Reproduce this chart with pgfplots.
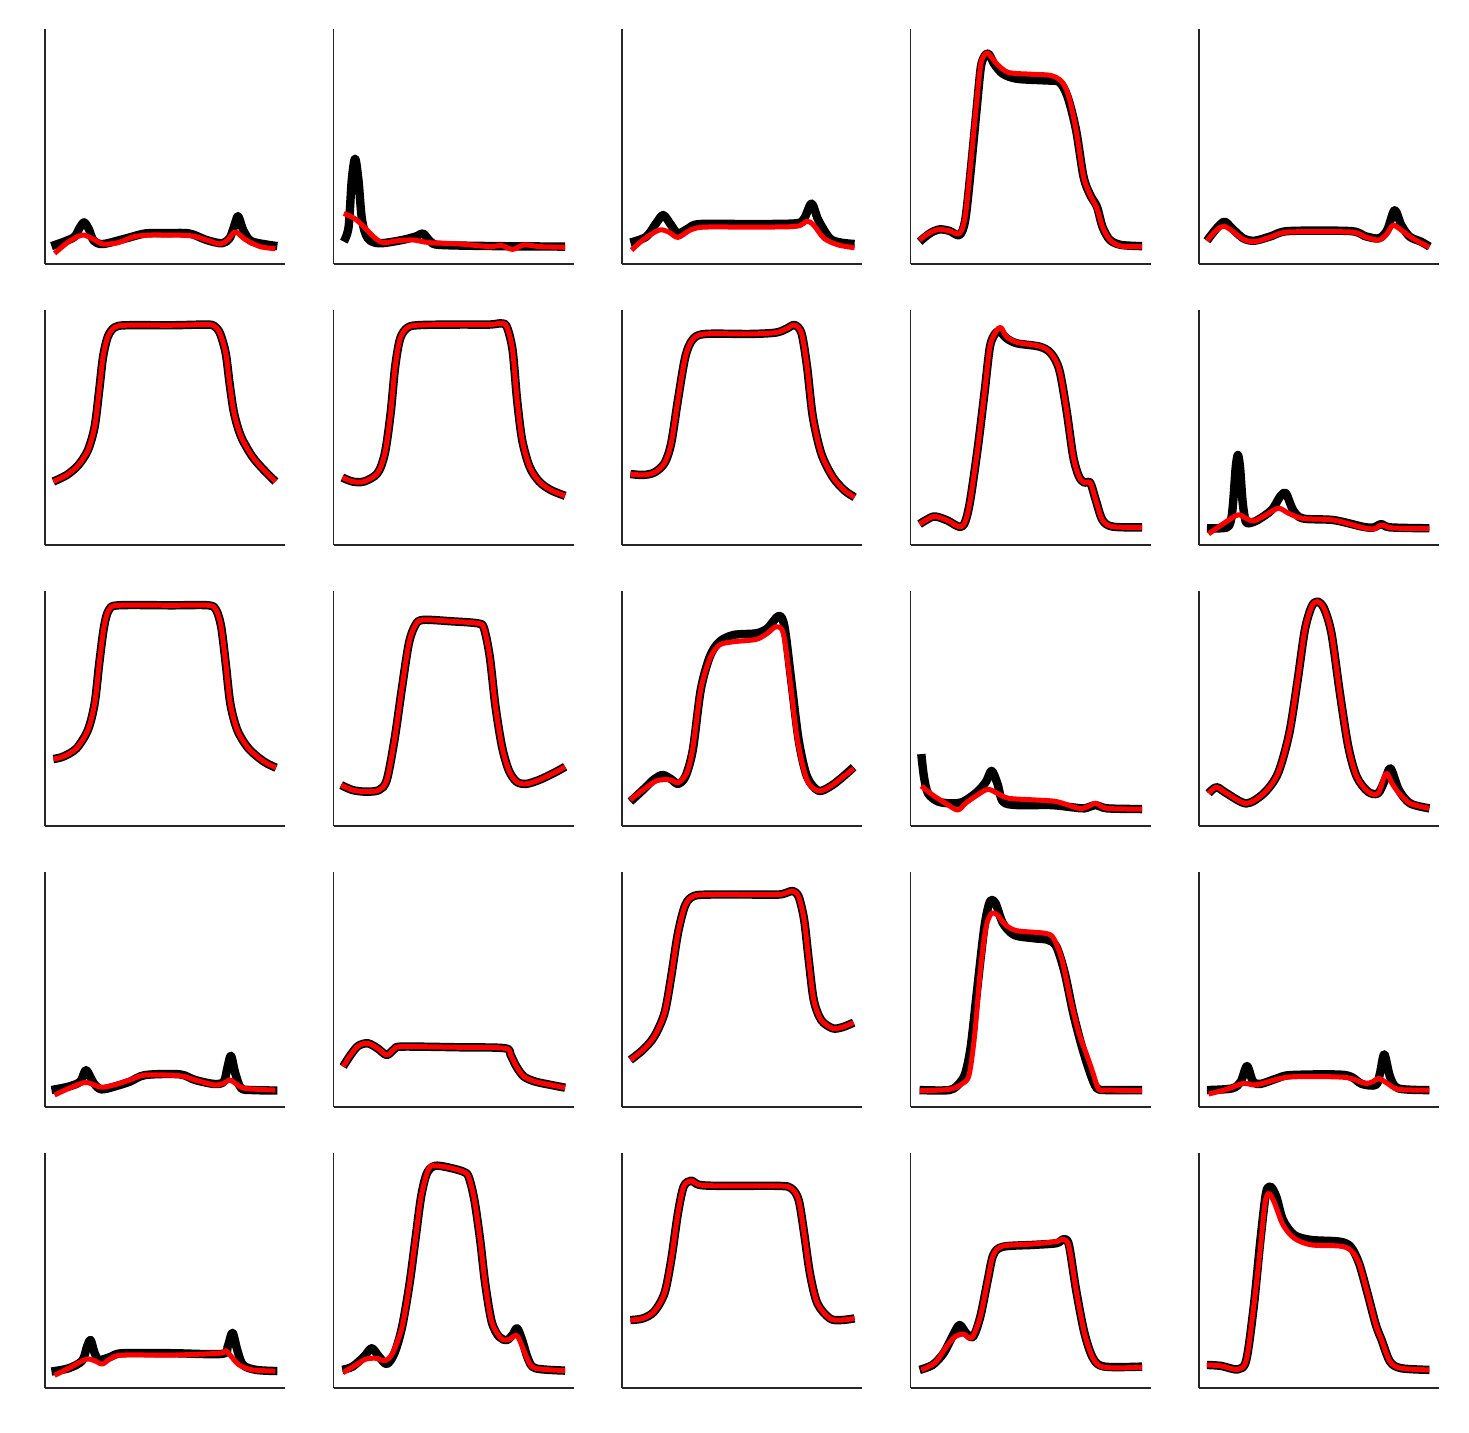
\documentclass[border=0pt]{standalone}
\usepackage{pgfplots}
\usepackage{pgfplotstable}
\pgfplotsset{compat=1.18}
\pgfplotsset{
 panel/.style={scale only axis, width=120pt, height=117.5pt, xmin=0, xmax=100, ymin=0, ymax=100,
   axis x line=bottom, axis y line=left, axis line style={-, line width=0.75pt, draw=black!85},
   xtick=\empty, ytick=\empty, clip=false, anchor=south west},
 blk/.style={black, line width=4.2pt, smooth, tension=0.5, line join=round, line cap=butt, mark=none},
 rd/.style={red, line width=2.5pt, smooth, tension=0.5, line join=round, line cap=butt, mark=none},
}
\pgfplotstableread{
x y
3.5 27.0
9.1 29.8
13.9 34.0
17.9 40.4
20.7 50.4
22.6 66.0
24.2 80.1
26.2 88.7
29.0 92.6
33.8 93.5
52.9 93.5
67.3 93.8
70.5 93.2
72.9 90.1
75.3 81.6
76.9 68.8
78.8 56.0
81.7 46.1
86.4 37.6
91.2 31.9
96.0 27.0
}\tabSix
\pgfplotstableread{
x y
3.7 28.7
7.9 27.0
12.7 27.0
18.3 30.5
21.4 39.0
23.8 56.0
25.7 75.9
27.8 87.9
31.0 92.6
36.5 93.6
52.4 93.8
65.1 93.8
69.8 94.3
72.2 92.9
74.6 83.0
76.5 61.7
78.6 44.7
81.7 33.3
85.7 27.0
90.5 23.4
96.5 20.9
}\tabSeven
\pgfplotstableread{
x y
3.5 30.2
8.7 29.8
13.4 30.8
17.7 34.8
20.5 43.3
23.3 61.7
26.4 80.1
29.5 87.5
34.7 89.8
53.5 89.8
64.2 90.4
68.9 92.2
71.9 93.6
74.8 90.1
77.1 75.9
79.5 54.6
83.0 39.0
87.7 29.1
92.5 23.4
96.9 20.3
}\tabEight
\pgfplotstableread{
x y
3.5 28.5
7.5 29.5
13.1 33.0
17.9 40.9
20.7 52.2
22.6 69.2
24.6 84.8
26.6 91.9
30.6 93.9
52.9 93.9
68.1 93.9
71.3 91.9
73.4 84.8
75.3 69.2
77.2 52.2
80.1 40.9
84.8 33.0
91.2 27.4
96.3 24.8
}\tabEleven
\pgfplotstableread{
x y
3.2 17.4
7.9 15.3
13.5 14.6
19.0 15.3
22.2 19.6
25.4 36.6
28.6 59.3
31.4 77.7
34.1 85.5
37.3 87.7
49.2 87.1
60.3 86.2
62.7 84.1
65.1 72.1
67.5 50.8
70.2 33.8
73.0 23.8
76.2 18.9
80.2 17.9
85.7 19.6
92.1 22.7
96.5 25.2
}\tabTwelve
\pgfplotstableread{
x y
4.0 17.2
7.1 22.1
10.3 26.0
14.3 27.1
18.3 25.0
22.2 22.1
25.4 24.7
28.6 25.7
52.4 25.4
71.4 25.0
73.8 22.1
76.2 17.2
79.4 12.9
84.1 10.8
90.5 9.4
96.5 8.2
}\tabSeventeen
\pgfplotstableread{
x y
3.5 20.0
8.7 24.3
13.4 29.9
17.7 39.9
20.5 55.5
23.3 73.9
26.4 86.0
30.0 89.8
37.0 90.4
53.5 90.4
65.3 90.4
68.9 91.3
71.2 91.9
73.6 89.5
75.9 79.6
77.8 62.6
79.9 45.5
83.0 37.0
87.7 33.5
91.7 33.9
96.5 35.9
}\tabEighteen
\pgfplotstableread{
x y
3.5 28.9
8.7 29.6
13.4 32.5
17.7 40.3
20.5 54.5
23.3 74.3
25.7 85.7
28.8 88.2
32.3 86.4
41.7 86.0
65.3 86.0
70.5 85.0
73.6 80.0
75.9 65.8
78.3 48.8
81.4 36.0
86.6 29.6
91.3 28.9
96.9 29.6
}\tabTwentyThree
\begin{document}
\begin{tikzpicture}
\path[use as bounding box] (0,0) rectangle (734.5pt,716.5pt);
% ---------------- row 1
\begin{axis}[panel, at={(22.5pt,584.5pt)}]
\addplot[blk] coordinates {(2.7,7.6)(8,9.5)(12.3,11.6)(14.5,15.5)(16.3,17.7)(18.2,15)(20.3,9.9)(24.2,8.5)(33.8,10.9)(41.8,13)(50,13.1)(60,13)(67.3,10.2)(73.7,8.8)(76.9,10.9)(78.8,16)(80.4,20.4)(82,16)(83.3,13)(86.4,9.5)(96.8,7.6)};
\addplot[rd] coordinates {(4,4.5)(9.9,9.5)(15.5,12.3)(19.5,10.9)(24.2,8.5)(30.6,9.1)(37,11.6)(43.4,12.3)(50,12.3)(60.9,12)(67.3,10.2)(72.9,8.5)(76.1,10.2)(79.3,13.7)(83.3,10.5)(89.6,7.4)(96,6.5)};
\end{axis}
\begin{axis}[panel, at={(166.75pt,584.5pt)}]
\addplot[blk] coordinates {(4.3,9.5)(6.3,15.8)(7.6,35.6)(9,44.8)(10.4,35.6)(11.9,18.7)(14.3,10.9)(19,8.8)(28.6,10.2)(34.9,11.9)(37.3,13)(40.5,9.5)(44.4,8.1)(68.3,7.6)(96.5,7.4)};
\addplot[rd] coordinates {(4.3,21.5)(8.7,19.4)(12.7,15.8)(16.7,11.6)(20.6,9.1)(27,9.9)(33.3,10.2)(39.7,9.1)(52.4,8.5)(65.1,7.4)(69.8,7.9)(74.6,6.2)(79.4,8.1)(85.7,7.4)(96.5,7.1)};
\end{axis}
\begin{axis}[panel, at={(311pt,584.5pt)}]
\addplot[blk] coordinates {(3.5,9.1)(10.1,11.6)(14.2,17.3)(17.2,20.8)(20.5,16.5)(23.3,13)(27.6,15.1)(32.3,17)(53.5,17)(72.4,17.3)(75.9,19.4)(79,25.7)(81.8,18.7)(86.6,10.9)(91.3,9.1)(96.9,8.5)};
\addplot[rd] coordinates {(4,5.9)(8.7,10.2)(15.3,14.4)(19.3,13.7)(23.3,11.3)(28.8,14.6)(34.7,15.7)(53.5,15.7)(72.4,16)(77.1,18.2)(79.9,16.5)(84.2,10.9)(90.1,8.1)(96.9,6.9)};
\end{axis}
\begin{axis}[panel, at={(455.25pt,584.5pt)}]
\addplot[blk] coordinates {(3.8,9.5)(8,13)(12,14.7)(16.2,14.1)(20.4,12.3)(22.8,18.7)(25.1,39.9)(27.5,65.3)(29.3,83.7)(31,88.7)(32.6,89.4)(35,84.9)(38.5,80.9)(44.4,78.8)(56.1,78.1)(62,77.4)(65.5,71)(69,56.9)(72.1,37.1)(74.9,29.3)(77.7,24.3)(80,15.8)(83.1,10.2)(87.8,8.1)(96.5,7.6)};
\addplot[rd] coordinates {(3.8,10.2)(8,13.3)(12,14.7)(16.2,14.1)(20.4,13)(22.8,20.2)(25.1,42.7)(27.5,68.2)(29.3,85.1)(31.2,89.4)(32.6,89.4)(36.2,84.9)(40.8,81.5)(49.1,80.8)(58.5,80.2)(63.2,77.4)(66,71)(69,56.9)(72.1,37.1)(74.9,29.3)(77.7,23.6)(80,15.8)(83.1,10.2)(87.8,7.6)(96.5,7.4)};
\end{axis}
\begin{axis}[panel, at={(599.5pt,584.5pt)}]
\addplot[blk] coordinates {(3.3,9.9)(7.3,15.1)(10.6,18)(13.8,15.1)(18.5,10.9)(23.2,9.9)(30.3,11.9)(37.3,14)(63.1,14)(69,11.9)(74.9,10.9)(78.4,14.4)(81.5,22.9)(84.3,16.5)(87.8,11.6)(92.5,9.5)(96,7.4)};
\addplot[rd] coordinates {(3.3,9.9)(7.3,14.4)(10.3,16.1)(13.8,14.1)(18.5,10.5)(23.2,9.5)(30.3,11.6)(37.3,13.6)(63.1,13.6)(69,11.6)(74.9,10.2)(78.4,13)(80.8,16.5)(84.3,14.4)(89,10.9)(96,7.1)};
\end{axis}
% ---------------- row 2
\begin{axis}[panel, at={(22.5pt,444pt)}]
\addplot[blk] table {\tabSix};
\addplot[rd] table {\tabSix};
\end{axis}
\begin{axis}[panel, at={(166.75pt,444pt)}]
\addplot[blk] table {\tabSeven};
\addplot[rd] table {\tabSeven};
\end{axis}
\begin{axis}[panel, at={(311pt,444pt)}]
\addplot[blk] table {\tabEight};
\addplot[rd] table {\tabEight};
\end{axis}
\begin{axis}[panel, at={(455.25pt,444pt)}]
\addplot[blk] coordinates {(3.8,8.9)(9.6,12.1)(15,10.6)(21.4,7.8)(24.4,16.3)(27.9,40.4)(30.8,64.5)(33.1,84.4)(35.4,90.1)(37.3,90.8)(40.1,87.9)(44.4,85.8)(53.8,84.4)(58.5,81.6)(62,74.5)(65,57.4)(67.8,37.6)(70.2,29.1)(72.5,26.5)(74.9,26.5)(77.2,19.1)(80,10.6)(84.3,7.8)(96.5,7.5)};
\addplot[rd] coordinates {(3.8,8.9)(9.6,12.1)(15,10.6)(21.4,7.8)(24.4,16.3)(27.9,40.4)(30.8,64.5)(33.1,84.4)(35.6,90.8)(37.6,92.6)(40.1,88.6)(44.4,86.2)(53.8,84.6)(58.5,81.6)(62,74.5)(65,57.4)(67.8,37.6)(70.2,29.1)(72.5,26.5)(74.9,26.5)(77.2,19.1)(80,10.6)(84.3,7.8)(96.5,7.5)};
\end{axis}
\begin{axis}[panel, at={(599.5pt,444pt)}]
\addplot[blk] coordinates {(3.3,7.1)(11.5,7.4)(13.4,11)(14.3,19.1)(15.3,33)(16.2,38.3)(17.1,33)(18.1,19.1)(19.2,11)(20.4,9.2)(24.4,10.6)(30.3,14.9)(33.8,20.6)(36.2,22)(39.2,14.9)(43.2,11.3)(56.1,10.6)(68.1,7.8)(72.5,7.4)(76.1,8.9)(79.6,7.5)(96,7.1)};
\addplot[rd] coordinates {(4,4.7)(10.3,9.2)(16.2,12.8)(19.7,11.3)(22.8,10.2)(27.9,12.8)(33.1,15.6)(37.3,13.5)(43.2,11.3)(56.1,10.6)(68.1,7.4)(72.8,6.8)(76.1,8.5)(80.8,7.2)(96,7.1)};
\end{axis}
% ---------------- row 3
\begin{axis}[panel, at={(22.5pt,303.5pt)}]
\addplot[blk] table {\tabEleven};
\addplot[rd] table {\tabEleven};
\end{axis}
\begin{axis}[panel, at={(166.75pt,303.5pt)}]
\addplot[blk] table {\tabTwelve};
\addplot[rd] table {\tabTwelve};
\end{axis}
\begin{axis}[panel, at={(311pt,303.5pt)}]
\addplot[blk] coordinates {(3.5,10.4)(8.7,15.3)(13.4,19.9)(17,21.7)(20.5,19.9)(23.3,17.9)(26.4,21)(29.5,32.3)(32.8,57.9)(36.6,72.1)(40.6,78.4)(46.5,81.3)(55.9,82)(60.6,84.1)(65.3,89.4)(67.7,84.8)(70.5,62.1)(73.6,36.6)(77.1,21)(81.8,15)(86.6,16.7)(91.3,20.3)(96.5,25)};
\addplot[rd] coordinates {(3.5,11.1)(8.7,15.3)(14.6,19.3)(20.5,19.6)(23.3,18.4)(26.9,22.4)(29.5,33)(32.8,57.9)(36.6,71.3)(40.6,77)(46.5,78.4)(55.9,79.4)(60.6,82)(64.2,84.8)(67.2,82)(70,62.1)(73.1,36.6)(77.1,19.6)(81.8,14.9)(86.6,16.7)(91.3,20.3)(96.5,24.5)};
\end{axis}
\begin{axis}[panel, at={(455.25pt,303.5pt)}]
\addplot[blk] coordinates {(4.5,30.6)(5.6,21)(7.3,13.9)(11.5,10.4)(17.4,9.6)(22.1,10.4)(27.9,14.6)(31.5,18.9)(33.8,23.5)(36.2,18.1)(38.5,10.4)(44.4,8.9)(58.5,8.9)(67.8,7.9)(72.5,7.5)(77.2,8.9)(81.9,7.5)(96.5,7.2)};
\addplot[rd] coordinates {(4.5,17)(9.2,13.2)(15,9.4)(19.7,6.8)(23.2,9.9)(27.9,13.2)(32.2,15.6)(36.2,13.9)(40.8,11.8)(51.4,11.1)(60.8,10.4)(70.2,7.5)(73.7,8.2)(77.2,9.6)(81.9,7.5)(96.5,7.2)};
\end{axis}
\begin{axis}[panel, at={(599.5pt,303.5pt)}]
\addplot[blk] coordinates {(4,13.9)(7.3,16.5)(11.5,13.9)(19.7,9.6)(27,13.9)(32.9,22.4)(37.6,39.4)(41.1,62.1)(44.1,83.4)(46.9,93.3)(49.3,95.5)(52.1,92.6)(55.2,81.9)(58.7,56.5)(62.2,33.8)(65.7,21)(70.4,14.6)(74.6,13.9)(77.5,19.6)(79.8,24.5)(83.3,15.3)(88,9.6)(96,7.5)};
\addplot[rd] coordinates {(4,13.9)(7.3,16.5)(11.5,13.9)(19.7,9.6)(27,13.9)(32.9,22.4)(37.6,39.4)(41.1,62.1)(44.1,83.4)(46.9,93.3)(49.3,95.5)(52.1,92.6)(55.2,81.9)(58.7,56.5)(62.2,33.8)(65.7,21)(70.4,14.6)(74.6,13.9)(77.9,22.4)(80.5,18)(83.3,14)(88,9.6)(96,7.5)};
\end{axis}
% ---------------- row 4
\begin{axis}[panel, at={(22.5pt,163pt)}]
\addplot[blk] coordinates {(2.7,7.2)(9.9,8.7)(14.7,10.8)(17.1,15.7)(20.3,10.1)(23.4,7.5)(29,8.7)(35.4,10.8)(41.8,13.6)(56.1,13.9)(62.5,11.5)(70.5,9.8)(74.5,10.8)(76.1,17.2)(77.5,21.8)(79.3,14.3)(81.7,8)(86.4,7.2)(96.8,7)};
\addplot[rd] coordinates {(4,5.1)(9.9,7.9)(16.3,10.4)(19.5,9.8)(23.4,8.4)(29,9.4)(35.4,11.5)(41.8,13.6)(56.1,13.3)(62.5,11.5)(70.5,9.4)(74.5,10.1)(76.9,11.5)(79.3,10.1)(83.3,7.9)(96,7.2)};
\end{axis}
\begin{axis}[panel, at={(166.75pt,163pt)}]
\addplot[blk] table {\tabSeventeen};
\addplot[rd] table {\tabSeventeen};
\end{axis}
\begin{axis}[panel, at={(311pt,163pt)}]
\addplot[blk] table {\tabEighteen};
\addplot[rd] table {\tabEighteen};
\end{axis}
\begin{axis}[panel, at={(455.25pt,163pt)}]
\addplot[blk] coordinates {(3.8,7.2)(16.2,7.2)(20.4,10.1)(22.8,14.3)(25.1,25.7)(27.9,51.2)(30.8,76.7)(33.1,87.4)(35.4,86.7)(38.5,78.2)(43.2,73.2)(51.4,71.8)(57.3,71.1)(60.8,68.2)(64.3,56.9)(67.8,39.9)(71.4,25.7)(74.9,14.3)(77.7,7.9)(81.9,7.2)(96.5,7.2)};
\addplot[rd] coordinates {(3.8,6.9)(16.2,7.5)(21.4,9.8)(24.4,13.6)(26.8,31.3)(29.1,58.2)(31.5,76.7)(33.8,82.4)(36.2,81.7)(39.7,77.4)(44.4,75)(56.1,73.9)(59.6,71.8)(63.1,62.6)(66.7,45.5)(70.2,31.3)(73.7,21.4)(76.1,14.3)(78.4,7.5)(81.9,7.2)(96.5,6.9)};
\end{axis}
\begin{axis}[panel, at={(599.5pt,163pt)}]
\addplot[blk] coordinates {(3.3,7.2)(13.8,7.9)(17.4,10.8)(20,17.4)(22.5,10.8)(25.6,9.8)(32.6,12.2)(38.5,13.6)(60.8,13.6)(67.8,9.8)(73.7,9.4)(75.4,14.3)(77.2,22.4)(79.6,12.9)(83.1,7.9)(96,7.2)};
\addplot[rd] coordinates {(4,5.5)(11.5,7.5)(18.5,10.1)(22.1,9.4)(25.6,9.8)(32.6,11.8)(39.7,12.9)(60.8,12.6)(69,10.1)(72.5,10.8)(74.9,12.2)(78.4,10.1)(83.1,7.5)(96,7.2)};
\end{axis}
% ---------------- row 5
\begin{axis}[panel, at={(22.5pt,22.5pt)}]
\addplot[blk] coordinates {(2.7,7)(9.9,8.4)(15.5,11.6)(17.5,17.6)(19,20.4)(20.7,14.8)(22.6,11.9)(27.4,13.3)(32.2,14.8)(52.9,14.8)(73.7,14.5)(76.1,17.6)(78.1,23.5)(80.1,16.2)(82.5,9.8)(88,7.7)(96.8,7.2)};
\addplot[rd] coordinates {(4,5.4)(9.9,8.4)(17.1,12.2)(20.7,11.6)(23.9,10.2)(27.4,12.6)(32.2,14)(52.9,14)(72.9,14.8)(75.3,15.9)(77.7,13.3)(80.9,9.8)(86.4,7.7)(96,7.2)};
\end{axis}
\begin{axis}[panel, at={(166.75pt,22.5pt)}]
\addplot[blk] coordinates {(3.7,7.7)(7.9,9.1)(12.7,13.3)(15.9,16.9)(19,13.3)(22.2,10.2)(25.4,14.8)(28.6,26.1)(31.7,44.5)(34.1,63)(36.5,81.4)(38.9,91.3)(42.1,94.5)(47.6,93.9)(54,92.1)(56.3,89.9)(58.7,80)(61.1,63)(63.2,44.5)(65.9,28.2)(69,21.8)(72.2,20.4)(74.6,22.6)(76.5,25.4)(78.6,20.4)(81,12.6)(84.1,8.4)(96.5,7.4)};
\addplot[rd] coordinates {(4,6.5)(8.7,9.4)(13.5,12.3)(18.3,12.6)(21.4,11.6)(24.6,14.8)(28.6,26.1)(31.7,44.5)(34.1,63)(36.5,81.4)(39.7,93.4)(42.9,94.5)(47.6,93.9)(54,92.1)(56.3,89.9)(58.7,80)(61.1,63)(63.2,44.5)(65.9,28.2)(69.8,21.1)(73,20.6)(76.2,22.4)(78.1,19)(81,11.9)(84.1,8.4)(96.5,7.4)};
\end{axis}
\begin{axis}[panel, at={(311pt,22.5pt)}]
\addplot[blk] table {\tabTwentyThree};
\addplot[rd] table {\tabTwentyThree};
\end{axis}
\begin{axis}[panel, at={(455.25pt,22.5pt)}]
\addplot[blk] coordinates {(3.8,7.7)(9.2,9.8)(13.8,14.8)(17.4,21.8)(20.4,26.8)(23.2,23.3)(26.1,21.8)(29.1,30.4)(32.2,46)(34.5,56.6)(38.5,60.1)(51.4,60.9)(60.8,61.6)(63.8,63.3)(66,60.9)(69,41.7)(72.5,23.3)(76.1,12.6)(80.8,9.1)(96.5,9.1)};
\addplot[rd] coordinates {(4.5,7.7)(10.3,10.8)(15,17.6)(18.5,21.8)(22.1,22.9)(25.6,21.4)(29.1,30.4)(32.2,46)(34.5,56.6)(38.5,60.4)(51.4,61.3)(60.8,62.3)(63.6,63.3)(66,60.3)(69,41.7)(72.5,23.3)(76.1,12.6)(80.8,8.8)(96.5,8.8)};
\end{axis}
\begin{axis}[panel, at={(599.5pt,22.5pt)}]
\addplot[blk] coordinates {(3.3,9.8)(9.2,9.4)(16.2,7.9)(19.7,11.9)(22.8,34.6)(25.6,63)(27.9,82.8)(29.8,85.7)(32.2,81.4)(35,71.5)(39.7,65.1)(46.7,63)(58.5,62.3)(63.2,60.1)(66.7,53)(70.2,40.3)(73.7,26.8)(76.1,20.4)(79.6,11.2)(84.3,8.4)(96,7.7)};
\addplot[rd] coordinates {(3.3,9.8)(9.2,9.4)(16.2,7.9)(19.7,11.9)(22.8,34.6)(25.6,60.1)(27.5,78.6)(29.1,82.8)(31.5,78.6)(35,69.4)(39.7,63.7)(46.7,60.9)(58.5,60.4)(63.2,58.7)(66.7,53)(70.2,40.3)(73.7,26.8)(76.1,20.4)(79.6,11.2)(84.3,8.4)(96,7.7)};
\end{axis}
\end{tikzpicture}
\end{document}
